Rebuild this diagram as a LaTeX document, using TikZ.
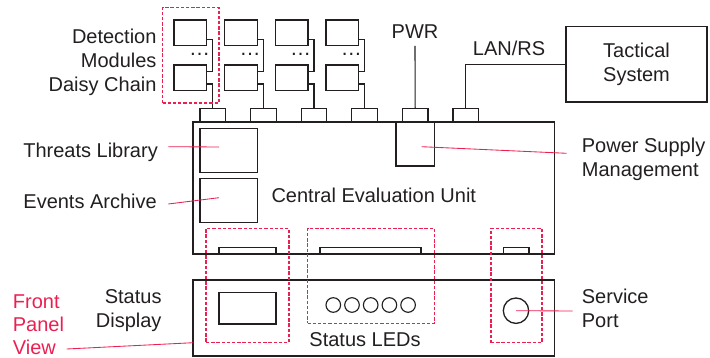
\documentclass[tikz,border=0pt]{standalone}
\usepackage{fontspec}
\setmainfont{Liberation Sans}
\definecolor{ink}{HTML}{231F20}
\definecolor{hl}{HTML}{EC1F51}
\begin{document}
\begin{tikzpicture}[x=1pt,y=-1pt,
  font=\fontsize{20}{24}\selectfont,
  every node/.style={inner sep=0pt, text=ink},
  rbox/.style={draw=ink, rectangle, inner sep=0pt, outer sep=0pt, anchor=north west},
  modbox/.style={rbox, line width=1.4pt, minimum width=32.7pt, minimum height=25.7pt},
  conn/.style={draw=ink, rectangle, line width=1.2pt, minimum width=25.5pt, minimum height=12.8pt, anchor=south, outer sep=0pt},
  wire/.style={draw=ink, line width=1.1pt},
  grp/.style={draw=hl, rectangle, line width=1.6pt, dash pattern=on 3.3pt off 1.9pt, anchor=north west, outer sep=0pt},
  lead/.style={draw=hl, line width=0.85pt},
  led/.style={draw=ink, circle, line width=1.15pt, minimum size=14.6pt}
]
\useasboundingbox (0,0) rectangle (710,358);

% central evaluation unit
\node[rbox, line width=1.7pt, minimum width=361.2pt, minimum height=132.6pt] (ceu) at (193.3,121.7) {};
\node[anchor=base] (ceul) at (373.8,202.3) {Central Evaluation Unit};

% top connectors
\foreach \i in {1,...,6}{
  \node[conn] (c\i) at ({212.8+50.6*(\i-1)},121.7) {};
}

% detection modules
\foreach \i in {0,...,3}{
  \pgfmathtruncatemacro\j{\i+1}
  \node[modbox] (ma\i) at ({174+50.6*\i},20) {};
  \node[modbox] (mb\i) at ({174+50.6*\i},65) {};
  \node[anchor=base, font=\fontsize{21}{21}\selectfont] (dt\i) at ({199.5+50.6*\i},56) {…};
  \coordinate (da\i) at ([yshift=-6.7pt]mb\i.north east);
  \draw[wire] ([yshift=6.4pt]ma\i.south east) -| (c\j.north |- da\i) -- (da\i);
  \draw[wire] ([yshift=6.7pt]mb\i.south east) -| (c\j.north);
}
\node[grp, minimum width=56.7pt, minimum height=95.4pt] (gdet) at (162.5,7.5) {};
\node[anchor=north east, align=right] (detl) at (156.7,29) {Detection\\Modules\\Daisy Chain};

% PWR and LAN
\node[anchor=base] (pwr) at (415,38.3) {PWR};
\coordinate (pwrend) at (415,46);
\draw[wire] (c5.north) -- (pwrend);
\node[rbox, line width=1.6pt, minimum width=141pt, minimum height=75.6pt, align=center] (tac) at (566,26.7) {Tactical\\System};
\draw[wire] (c6.north) |- (tac.west);
\node[anchor=base] (lan) at (509,56) {LAN/RS};

% inner boxes
\node[rbox, line width=1.25pt, minimum width=57.3pt, minimum height=44pt] (thr) at (200,128.3) {};
\node[rbox, line width=1.25pt, minimum width=57.3pt, minimum height=44.4pt] (evt) at (200,178.3) {};
\node[rbox, line width=1.25pt, minimum width=38.3pt, minimum height=44.3pt] (psu) at (396,121.7) {};

\node[anchor=base east] (thl) at (158,157.8) {Threats Library};
\node[anchor=base east] (evl) at (157,209) {Events Archive};
\node[anchor=north west, align=left] (psl) at (581.7,137.5) {Power Supply\\Management};
\draw[lead] ([xshift=10.3pt,yshift=11.1pt]thl.base east) -- ([xshift=-9.65pt,yshift=3.3pt]thr.center);
\draw[lead] ([xshift=11.3pt,yshift=5pt]evl.base east) -- ([xshift=-9.65pt,yshift=2.8pt]evt.center);
\draw[lead] ([xshift=6.55pt,yshift=-2.85pt]psu.center) -- ([xshift=-15pt,yshift=-15.8pt]psl.north west);

% bottom slots
\node[rbox, line width=1.1pt, minimum width=57pt, minimum height=6.6pt] (sa) at (219,247.7) {};
\node[rbox, line width=1.1pt, minimum width=101pt, minimum height=6.6pt] (sb) at (320,247.7) {};
\node[rbox, line width=1.1pt, minimum width=25.7pt, minimum height=6.6pt] (sc) at (503.3,247.7) {};

% front panel
\node[rbox, line width=1.7pt, minimum width=361.2pt, minimum height=75.7pt] (fp) at (193.3,280) {};
\node[rbox, line width=1.3pt, minimum width=57pt, minimum height=31.7pt] (disp) at (219,292.3) {};
\foreach \k in {0,...,4}{
  \node[led] (led\k) at ({333.3+18.7*\k},305) {};
}
\node[draw=ink, circle, line width=1.3pt, minimum size=25.4pt] (sp) at (516,310.7) {};
\node[anchor=base] (ledl) at (365,346.7) {Status LEDs};
\node[anchor=north east, align=right] (sdl) at (161.7,289.6) {Status\\Display};
\node[anchor=north west, align=left] (spl) at (581.7,288.6) {Service\\Port};
\draw[lead] (sp.center) -- ([xshift=-9pt,yshift=-22.4pt]spl.north west);
\node[anchor=north west, align=left, text=hl, font=\fontsize{20}{23.2}\selectfont] (fpl) at (12.7,294.2) {Front\\Panel\\View};
\draw[lead] ([xshift=54pt,yshift=-54.8pt]fpl.north west) -- ([yshift=-24.85pt]fp.west);

% highlighted groups
\node[grp, minimum width=83pt, minimum height=114pt] (ga) at (206,228.5) {};
\node[grp, minimum width=127pt, minimum height=95pt] (gb) at (307.5,228.5) {};
\node[grp, minimum width=51pt, minimum height=114pt] (gc) at (491,228.5) {};
\end{tikzpicture}
\end{document}
